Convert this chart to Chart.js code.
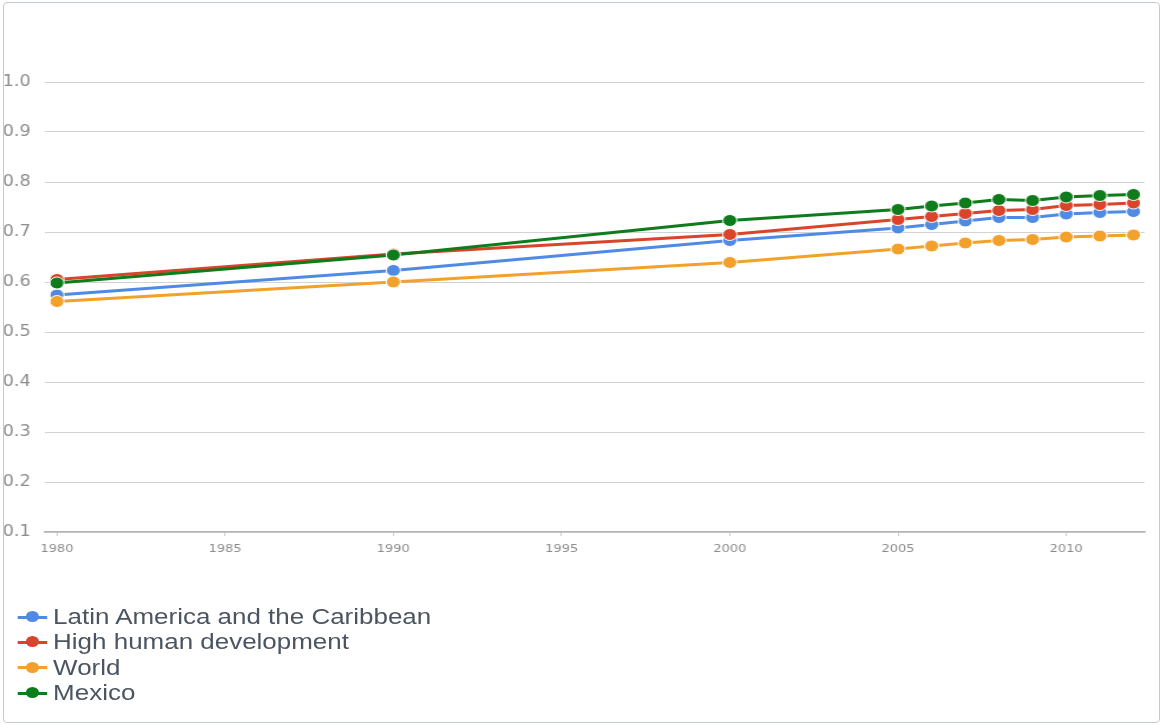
<!DOCTYPE html>
<html lang="en">
<head>
  <meta charset="UTF-8" />
  <title>Human Development Index trends</title>
  <script src="https://cdn.jsdelivr.net/npm/chart.js"></script>
  <style>
    html, body { margin: 0; padding: 0; background: #fff; width: 1162px; height: 725px; overflow: hidden; }
    /* the source picture is stretched sideways, so the whole chart is too */
    .wrap { position: absolute; left: 0; top: 0; width: 985px; height: 725px; transform: scaleX(1.18); transform-origin: 0 0; }
    canvas { position: absolute; left: 0; top: 0; }
    .legend { position: absolute; left: 15px; top: 604px; font-family: "Liberation Sans", Arial, sans-serif; font-size: 22px; color: #4b5561; }
    .legend .row { height: 25.3px; line-height: 25.3px; display: flex; align-items: center; white-space: nowrap; }
    .legend .mark { position: relative; width: 25px; height: 14px; margin-right: 5px; }
    .legend .mark .ln { position: absolute; left: 0; right: 0; top: 6px; height: 3px; }
    .legend .mark .dot { position: absolute; left: 7px; top: 1.5px; width: 11px; height: 11px; border-radius: 50%; }
    .frame { position: absolute; left: 3px; top: 2px; width: 1155px; height: 719px; border: 1px solid #c3cad1; border-radius: 4px; pointer-events: none; }
  </style>
</head>
<body>
  <div class="wrap">
    <canvas id="hdiChart" width="985" height="570"></canvas>
    <div class="legend" id="legend"></div>
  </div>
  <div class="frame"></div>

  <script>
    const years = [1980, 1990, 2000, 2005, 2006, 2007, 2008, 2009, 2010, 2011, 2012];
    const latinAmerica = [0.574, 0.623, 0.683, 0.708, 0.715, 0.722, 0.729, 0.729, 0.736, 0.739, 0.741];
    const highHuman = [0.605, 0.656, 0.695, 0.725, 0.731, 0.737, 0.743, 0.745, 0.753, 0.755, 0.758];
    const world = [0.561, 0.600, 0.639, 0.666, 0.672, 0.678, 0.683, 0.685, 0.690, 0.692, 0.694];
    const mexico = [0.598, 0.654, 0.723, 0.745, 0.752, 0.758, 0.765, 0.763, 0.770, 0.773, 0.775];

    const seriesNames = ['Latin America and the Caribbean', 'High human development', 'World', 'Mexico'];
    const seriesColors = ['#4f8ae3', '#d9442a', '#f2a12b', '#0e7c1b'];
    const xTicks = [1980, 1985, 1990, 1995, 2000, 2005, 2010];

    const allSeries = [latinAmerica, highHuman, world, mexico];

    const datasets = allSeries.map((vals, i) => ({
      label: seriesNames[i],
      data: years.map((y, j) => ({ x: y, y: vals[j] })),
      borderColor: seriesColors[i],
      backgroundColor: seriesColors[i],
      pointBackgroundColor: seriesColors[i],
      pointBorderColor: '#ffffff',
      pointBorderWidth: 1,
      pointRadius: 6,
      borderWidth: 3,
      tension: 0,
      order: allSeries.length - 1 - i   // later series drawn on top
    }));

    // legend as html, stacked in rows like the original
    const legendEl = document.getElementById('legend');
    seriesNames.forEach((name, i) => {
      const row = document.createElement('div');
      row.className = 'row';
      row.innerHTML = `<span class="mark"><span class="ln" style="background:${seriesColors[i]}"></span>` +
        `<span class="dot" style="background:${seriesColors[i]}"></span></span><span>${name}</span>`;
      legendEl.appendChild(row);
    });

    const ctx = document.getElementById('hdiChart').getContext('2d');
    new Chart(ctx, {
      type: 'line',
      data: { datasets },
      options: {
        responsive: false,
        animation: false,
        layout: { padding: { top: 82, right: 15, left: 0, bottom: 0 } },
        plugins: {
          legend: { display: false },
          tooltip: { enabled: false }
        },
        scales: {
          x: {
            type: 'linear',
            min: 1979.64,
            max: 2012.33,
            afterBuildTicks: scale => { scale.ticks = xTicks.map(v => ({ value: v })); },
            afterFit: scale => { scale.height = 38; },
            grid: { drawOnChartArea: false, drawTicks: true, tickLength: 4, color: '#cccccc' },
            border: { color: '#b5b5b5', width: 1.5 },
            ticks: {
              padding: 7,
              maxRotation: 0,
              color: '#8c8c8c',
              font: { family: 'DejaVu Sans', size: 11 },
              callback: v => String(v)
            }
          },
          y: {
            min: 0.1,
            max: 1.0,
            afterFit: scale => { scale.width = 38; },
            grid: { color: '#d3d3d3', drawTicks: false },
            border: { display: false },
            ticks: {
              stepSize: 0.1,
              padding: 12,
              color: '#8c8c8c',
              font: { family: 'DejaVu Sans', size: 15 },
              callback: v => Number(v).toFixed(1)
            }
          }
        }
      }
    });
  </script>
</body>
</html>
